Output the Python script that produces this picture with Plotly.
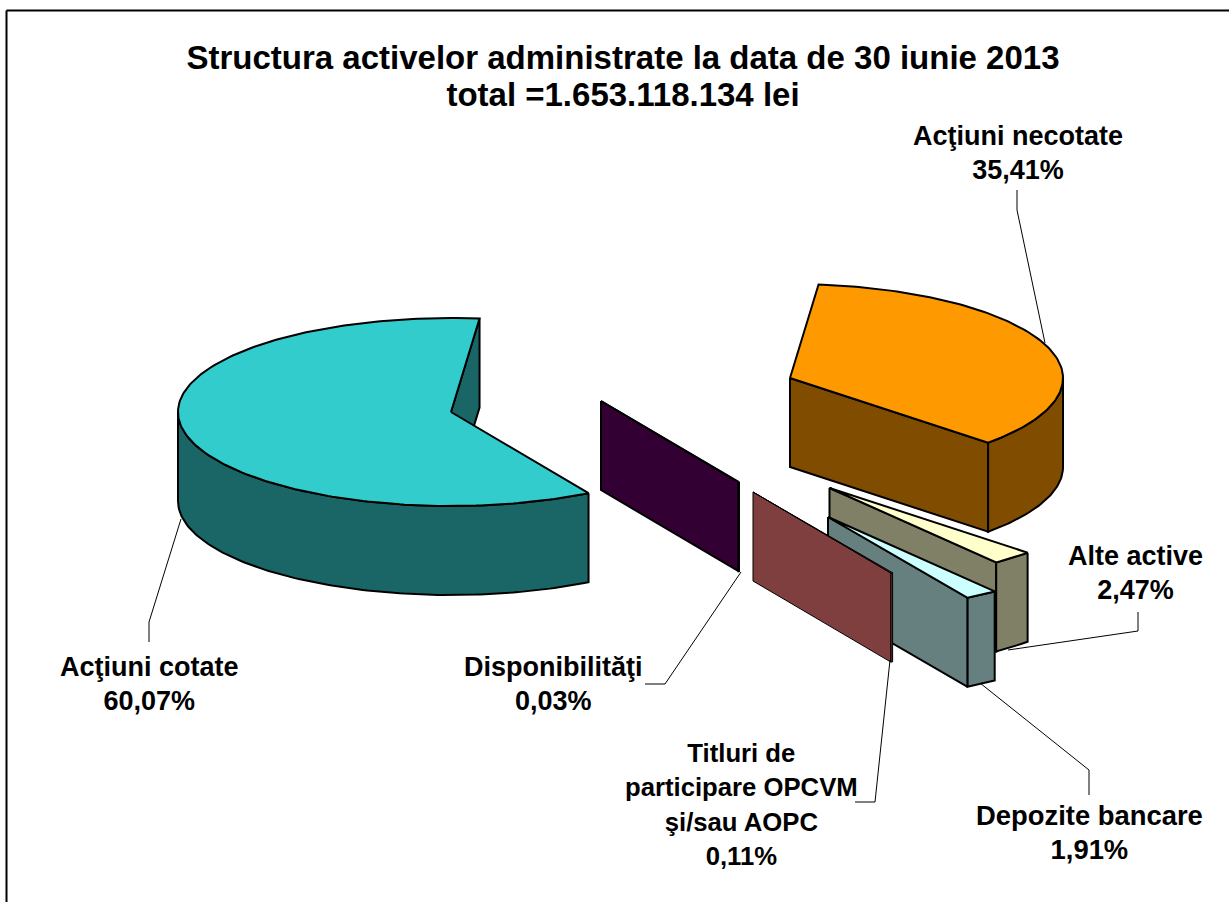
import math
import plotly.graph_objects as go

# ---- data ----
categories = ["Acţiuni necotate", "Alte active", "Depozite bancare",
              "Titluri de participare OPCVM şi/sau AOPC", "Disponibilităţi", "Acţiuni cotate"]
values = [35.41, 2.47, 1.91, 0.11, 0.03, 60.07]
value_labels = ["35,41%", "2,47%", "1,91%", "0,11%", "0,03%", "60,07%"]
title_lines = ["Structura activelor administrate la data de 30 iunie 2013",
               "total =1.653.118.134 lei"]

# ---- geometry and styling ----
W, H = 1229, 902
RX, RY, DEPTH = 273, 94, 89
START_ANGLE = 6.0
centres = [(790, 378), (829.5, 488), (828, 517), (753, 492), (601, 401), (451, 412)]
top_colors = ["#FF9900", "#FFFFCC", "#CCFFFF", "#993333", "#330033", "#33CCCC"]
side_colors = ["#804C00", "#808066", "#668080", "#803F3F", "#330033", "#1A6666"]
line_widths = [2, 2, 2, 1, 2, 2]
draw_order = [5, 0, 4, 1, 2, 3]

label_lines = [
    ["Acţiuni necotate"], ["Alte active"], ["Depozite bancare"],
    ["Titluri de", "participare OPCVM", "şi/sau AOPC"], ["Disponibilităţi"], ["Acţiuni cotate"],
]
label_pos = [(1018, 153), (1135, 573), (1089, 832), (741, 804), (553, 684), (149, 684)]
label_px = [27, 27, 27.4, 25.7, 27, 27]
leaders = [
    [(1017, 190), (1017, 210), (1045, 343)],
    [(1138, 612), (1138, 631), (1008, 650)],
    [(1089, 795), (1089, 770), (980, 683)],
    [(855, 802), (875, 802), (890, 660)],
    [(645, 684), (665, 684), (741, 572)],
    [(149, 642), (149, 622), (181, 519)],
]


def pt(c, ang, dz=0.0):
    a = math.radians(ang)
    return c[0] + RX * math.sin(a), c[1] - RY * math.cos(a) + dz


def arc(c, a0, a1, dz=0.0, step=1.0):
    n = max(2, int(abs(a1 - a0) / step) + 1)
    return [pt(c, a0 + (a1 - a0) * i / (n - 1), dz) for i in range(n)]


def poly(fig, points, fill, width):
    xs = [p[0] for p in points] + [points[0][0]]
    ys = [p[1] for p in points] + [points[0][1]]
    fig.add_trace(go.Scatter(x=xs, y=ys, mode="lines", fill="toself", fillcolor=fill,
                             line=dict(color="black", width=width), hoverinfo="skip",
                             showlegend=False))


# cumulative slice angles, derived from the values
total = sum(values)
angles = []
a = START_ANGLE
for v in values:
    angles.append((a, a + v / total * 360))
    a += v / total * 360

fig = go.Figure()
for i in draw_order:
    c = centres[i]
    a0, a1 = angles[i]
    col = side_colors[i]
    lw = line_widths[i]
    # radial wall at the end of the slice
    poly(fig, [c, pt(c, a1), pt(c, a1, DEPTH), (c[0], c[1] + DEPTH)], col, lw)
    # outer wall, front half only
    f0, f1 = max(a0, 90), min(a1, 270)
    if f1 > f0:
        poly(fig, arc(c, f0, f1) + arc(c, f1, f0, DEPTH), col, lw)
    # top face
    poly(fig, [c] + arc(c, a0, a1), top_colors[i], lw)

# leader lines
for ln in leaders:
    fig.add_trace(go.Scatter(x=[p[0] for p in ln], y=[p[1] for p in ln], mode="lines",
                             line=dict(color="black", width=1), hoverinfo="skip",
                             showlegend=False))


def styled(lines, px):
    return "<br>".join(f"<b><span style='font-size:{px}px'>{t}</span></b>" for t in lines)


# labels
annotations = []
for lines, val, (x, y), px in zip(label_lines, value_labels, label_pos, label_px):
    annotations.append(dict(x=x, y=y, xref="x", yref="y", text=styled(lines + [val], px),
                            showarrow=False, xanchor="center", yanchor="middle", align="center",
                            font=dict(family="Liberation Sans", size=26.5, color="black")))

# chart-area border
shapes = [dict(type="line", x0=6.5, x1=6.5, y0=10.5, y1=H, xref="x", yref="y",
               line=dict(color="black", width=2)),
          dict(type="line", x0=6.5, x1=W, y0=10.5, y1=10.5, xref="x", yref="y",
               line=dict(color="black", width=2))]

fig.update_layout(
    width=W, height=H, margin=dict(l=0, r=0, t=0, b=0),
    paper_bgcolor="white", plot_bgcolor="white", showlegend=False,
    title=dict(text=styled(title_lines, 33), x=623 / W, xanchor="center",
               y=1 - 69 / H, yanchor="middle",
               font=dict(family="Liberation Sans", size=28.5, color="black")),
    xaxis=dict(range=[0, W], visible=False, fixedrange=True),
    yaxis=dict(range=[H, 0], visible=False, fixedrange=True),
    annotations=annotations, shapes=shapes,
    font=dict(family="Liberation Sans"),
)

fig.write_html("out.html", post_script="document.body.style.margin='0';", config={"displayModeBar": False})
